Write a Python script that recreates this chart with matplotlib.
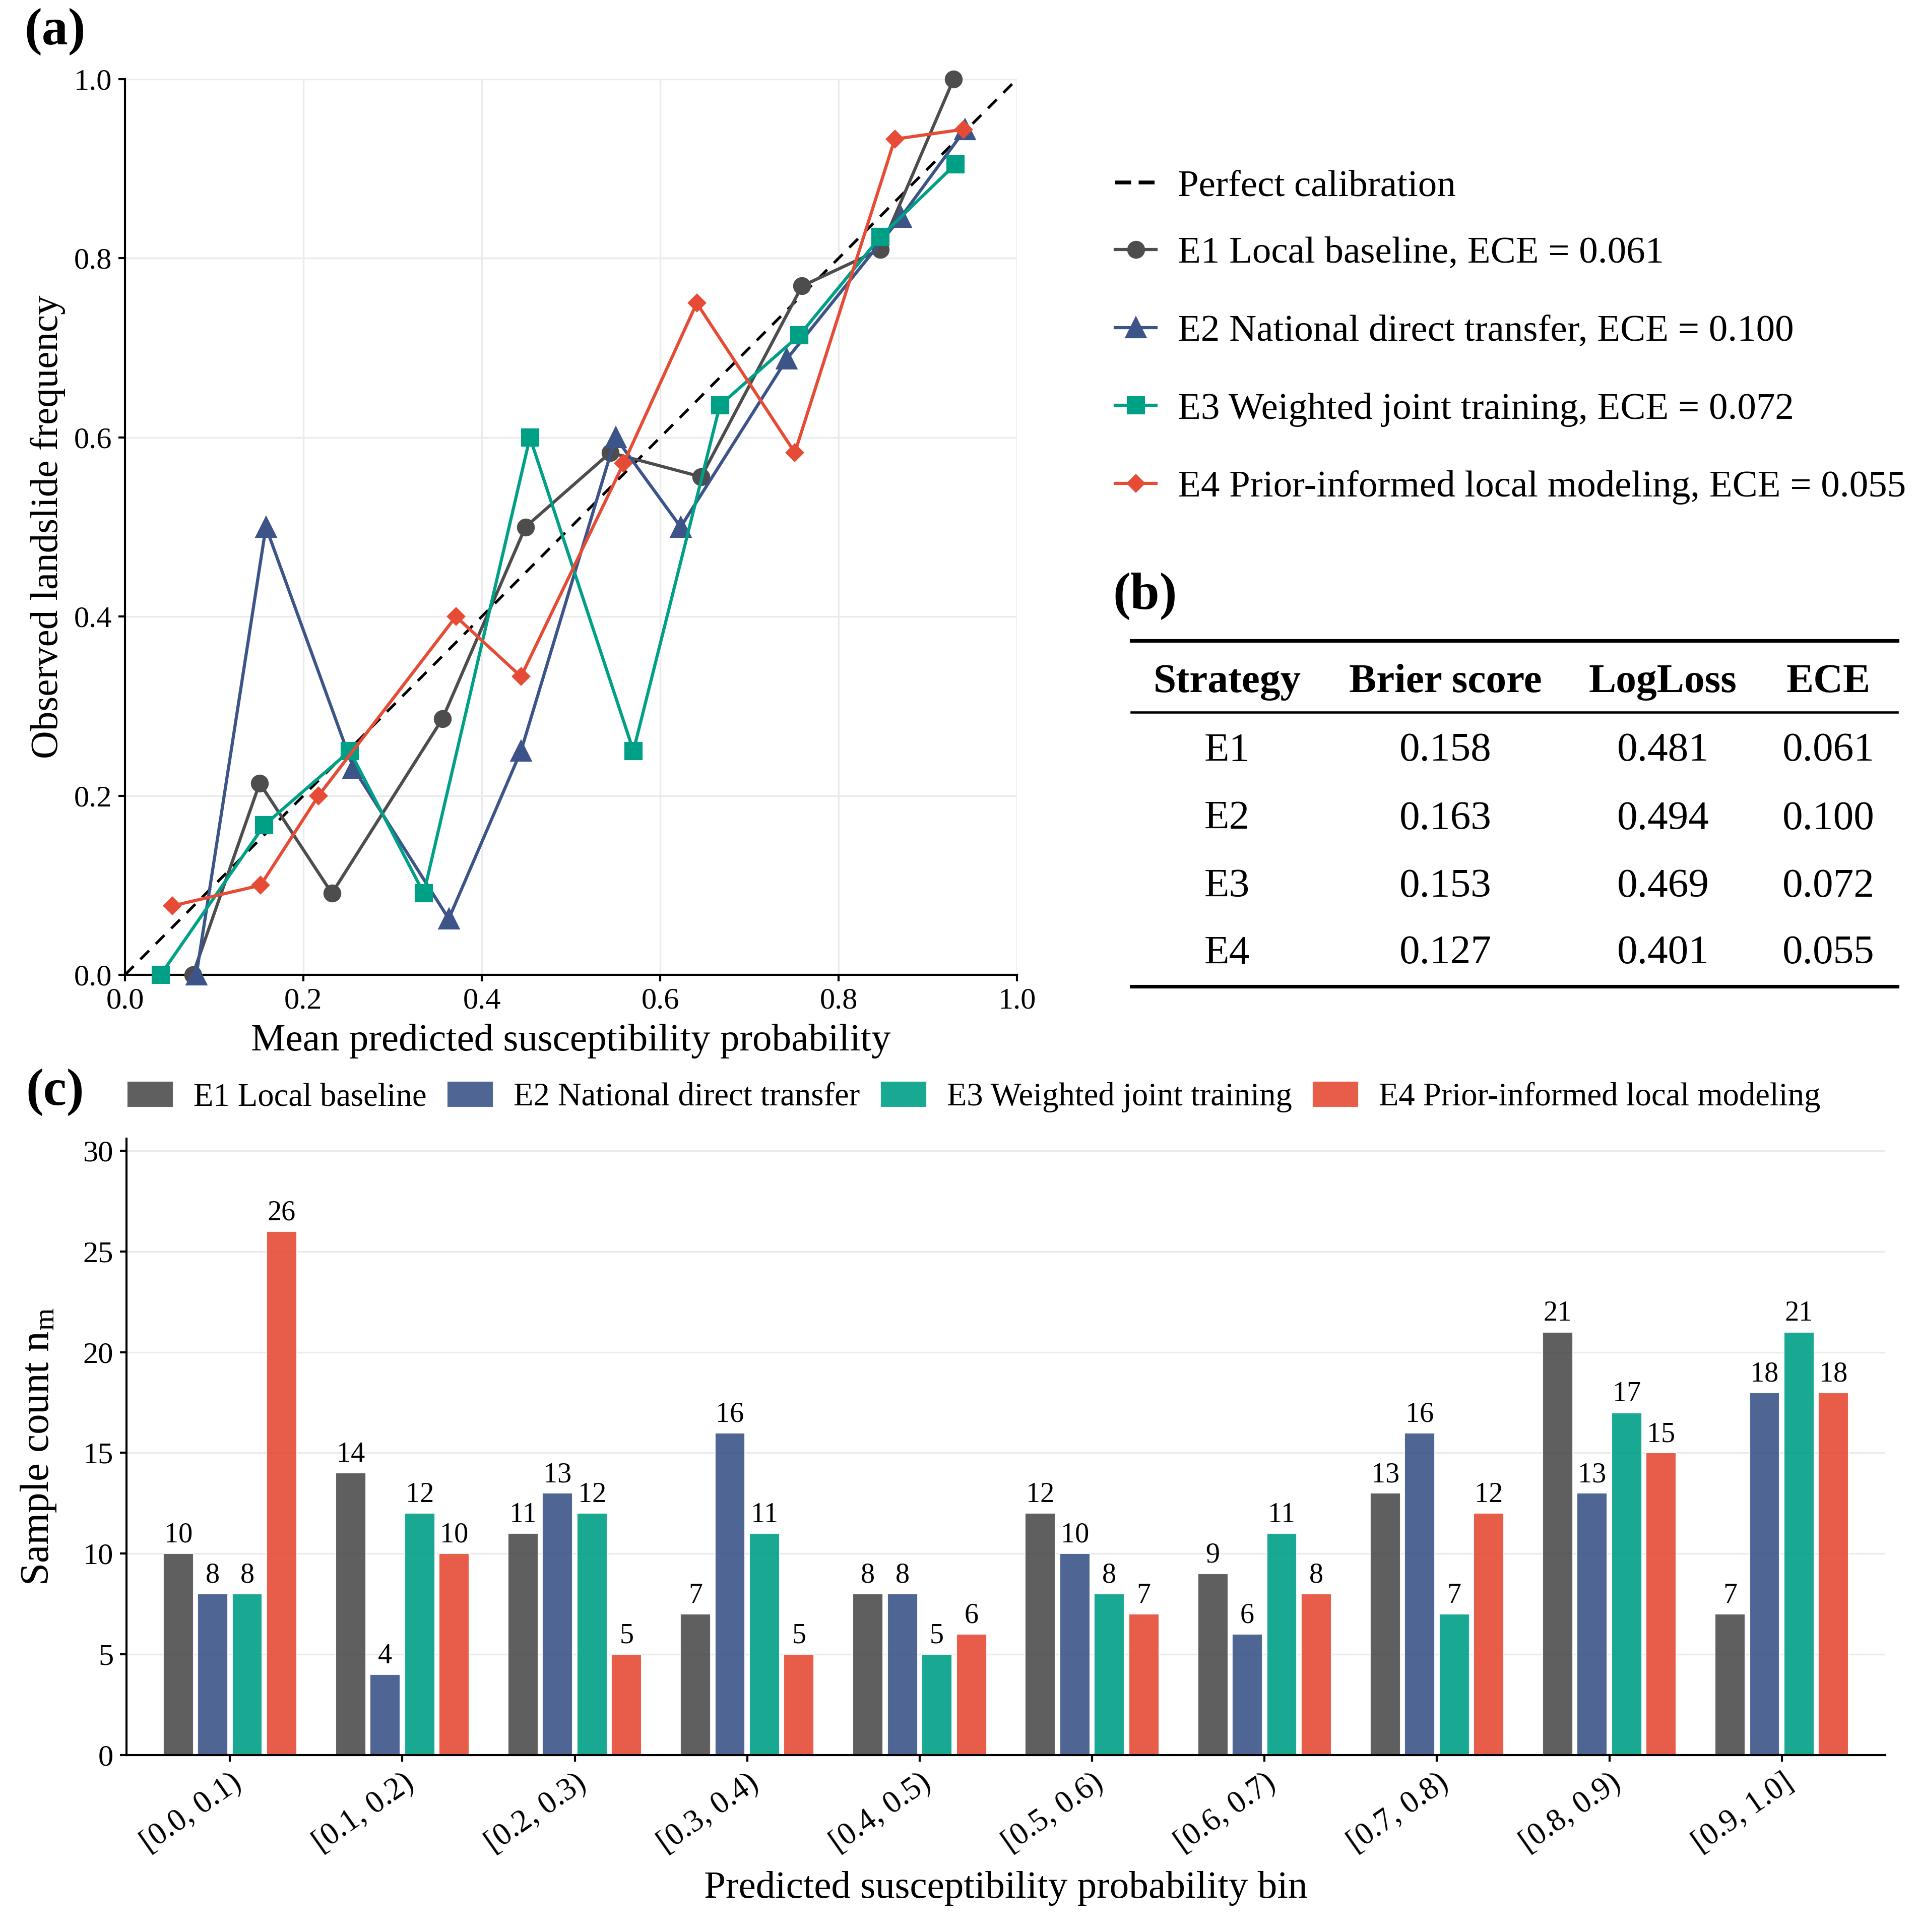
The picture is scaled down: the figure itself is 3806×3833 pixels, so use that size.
import matplotlib
matplotlib.use("Agg")
import matplotlib.pyplot as plt
from matplotlib.lines import Line2D
import numpy as np

plt.rcParams['font.family'] = ['Liberation Serif', 'DejaVu Serif']
plt.rcParams['mathtext.fontset'] = 'custom'
plt.rcParams['mathtext.rm'] = 'Liberation Serif'
plt.rcParams['mathtext.it'] = 'Liberation Serif:italic'

# ---- data ----
strategies = ['E1', 'E2', 'E3', 'E4']
names = ['E1 Local baseline', 'E2 National direct transfer',
         'E3 Weighted joint training', 'E4 Prior-informed local modeling']
ece = [0.061, 0.100, 0.072, 0.055]
brier = [0.158, 0.163, 0.153, 0.127]
logloss = [0.481, 0.494, 0.469, 0.401]

e1_x = [0.076, 0.151, 0.232, 0.356, 0.449, 0.544, 0.646, 0.759, 0.847, 0.929]
e1_y = [0.0, 0.214, 0.091, 0.286, 0.5, 0.583, 0.556, 0.769, 0.810, 1.0]
e2_x = [0.080, 0.158, 0.256, 0.363, 0.444, 0.550, 0.623, 0.742, 0.870, 0.942]
e2_y = [0.0, 0.5, 0.231, 0.0625, 0.25, 0.6, 0.5, 0.6875, 0.846, 0.944]
e3_x = [0.040, 0.156, 0.252, 0.335, 0.454, 0.570, 0.667, 0.756, 0.847, 0.931]
e3_y = [0.0, 0.167, 0.25, 0.091, 0.6, 0.25, 0.636, 0.714, 0.824, 0.905]
e4_x = [0.053, 0.152, 0.217, 0.371, 0.444, 0.559, 0.641, 0.751, 0.863, 0.940]
e4_y = [0.077, 0.1, 0.2, 0.4, 0.333, 0.571, 0.75, 0.583, 0.933, 0.944]

bins = ['[0.0, 0.1)', '[0.1, 0.2)', '[0.2, 0.3)', '[0.3, 0.4)', '[0.4, 0.5)',
        '[0.5, 0.6)', '[0.6, 0.7)', '[0.7, 0.8)', '[0.8, 0.9)', '[0.9, 1.0]']
n_e1 = [10, 14, 11, 7, 8, 12, 9, 13, 21, 7]
n_e2 = [8, 4, 13, 16, 8, 10, 6, 16, 13, 18]
n_e3 = [8, 12, 12, 11, 5, 8, 11, 7, 17, 21]
n_e4 = [26, 10, 5, 5, 6, 7, 8, 12, 15, 18]

cols = ['#4D4D4D', '#3C5488', '#00A087', '#E64B35']
marks = ['o', '^', 's', 'D']
msizes = [7.5, 9, 7.5, 5.5]

W, H = 3806, 3833
fig = plt.figure(figsize=(W / 300, H / 300), dpi=300)
fig.patch.set_facecolor('white')

def fx(px):
    return px / W

def fy(py):
    return 1 - py / H

def style_axes(ax):
    for s in ['top', 'right']:
        ax.spines[s].set_visible(False)
    for s in ['left', 'bottom']:
        ax.spines[s].set_linewidth(1.0)
        ax.spines[s].set_color('black')
    ax.tick_params(length=3.2, width=1.0, labelsize=14.5, pad=3, color='black')
    ax.set_axisbelow(True)

# ---- (a) reliability diagram ----
axa = fig.add_axes([fx(248), fy(1934), fx(2018) - fx(248), fy(157) - fy(1934)])
style_axes(axa)
axa.grid(True, color='#EBEBEB', linewidth=0.8)
axa.plot([0, 1], [0, 1], color='black', linestyle=(0, (4.5, 3.5)), linewidth=1.3,
         zorder=2, label='Perfect calibration')
series = [(e1_x, e1_y), (e2_x, e2_y), (e3_x, e3_y), (e4_x, e4_y)]
handles = []
for i, (xs, ys) in enumerate(series):
    h, = axa.plot(xs, ys, color=cols[i], marker=marks[i], markersize=msizes[i],
                  linewidth=1.5, zorder=3, clip_on=False,
                  label=f'{names[i]}, ECE = {ece[i]:.3f}')
    handles.append(h)
axa.set_xlim(0, 1)
axa.set_ylim(0, 1)
axa.set_xticks(np.arange(0, 1.01, 0.2))
axa.set_yticks(np.arange(0, 1.01, 0.2))
axa.xaxis.set_major_formatter(matplotlib.ticker.FormatStrFormatter('%.1f'))
axa.yaxis.set_major_formatter(matplotlib.ticker.FormatStrFormatter('%.1f'))
axa.set_xlabel('Mean predicted susceptibility probability', fontsize=18.5, labelpad=4)
axa.set_ylabel('Observed landslide frequency', fontsize=18.5, labelpad=4)

dash_h = Line2D([], [], color='black', linestyle=(0, (4.2, 2.0)), linewidth=1.8)
leg1 = fig.legend([dash_h], ['Perfect calibration'], loc='center left',
                  bbox_to_anchor=(fx(2213), fy(370)), frameon=False, fontsize=18,
                  handlelength=1.08, handletextpad=0.57, borderpad=0, borderaxespad=0)
leg2 = fig.legend(handles, [h.get_label() for h in handles], loc='center left',
                  bbox_to_anchor=(fx(2213), fy(735)), frameon=False, fontsize=18,
                  handlelength=1.08, handletextpad=0.57, borderpad=0, borderaxespad=0,
                  labelspacing=1.15)

# ---- (b) table ----
tl = dict(color='black', transform=fig.transFigure)
fig.add_artist(Line2D([fx(2245), fx(3765)], [fy(1271)] * 2, linewidth=1.7, **tl))
fig.add_artist(Line2D([fx(2245), fx(3765)], [fy(1413)] * 2, linewidth=1.1, **tl))
fig.add_artist(Line2D([fx(2245), fx(3765)], [fy(1957)] * 2, linewidth=1.7, **tl))
col_x = [fx(2435), fx(2868), fx(3300), fx(3628)]
headers = ['Strategy', 'Brier score', 'LogLoss', 'ECE']
for cx, hd in zip(col_x, headers):
    fig.text(cx, fy(1353), hd, ha='center', va='center', fontsize=19.5, fontweight='bold')
row_y = [fy(1490), fy(1625), fy(1759), fy(1892)]
for i, ry in enumerate(row_y):
    vals = [strategies[i], f'{brier[i]:.3f}', f'{logloss[i]:.3f}', f'{ece[i]:.3f}']
    for cx, v in zip(col_x, vals):
        fig.text(cx, ry, v, ha='center', va='center', fontsize=19.5)

# ---- (c) bar chart ----
axc = fig.add_axes([fx(251), fy(3482), fx(3741) - fx(251), fy(2259) - fy(3482)])
style_axes(axc)
axc.grid(True, axis='y', color='#EBEBEB', linewidth=0.8)
xpos = np.arange(len(bins))
counts = [n_e1, n_e2, n_e3, n_e4]
bar_handles = []
for i, cnt in enumerate(counts):
    bars = axc.bar(xpos + (i - 1.5) * 0.2, cnt, width=0.175, color=cols[i], alpha=0.9,
                   edgecolor='white', linewidth=0.5, label=names[i], zorder=2)
    axc.bar_label(bars, labels=[str(v) for v in cnt], padding=2.5, fontsize=13.5)
    bar_handles.append(bars)
axc.set_xlim(-0.6, 9.6)
axc.set_ylim(0, 30.6)
axc.set_yticks(np.arange(0, 31, 5))
axc.set_xticks(xpos)
axc.set_xticklabels(bins, rotation=35, ha='right', va='top', rotation_mode='anchor',
                    fontsize=15)
axc.set_xlabel('Predicted susceptibility probability bin', fontsize=18.5, labelpad=6)
axc.set_ylabel(r'Sample count n$_{\mathrm{m}}$', fontsize=19.5, labelpad=12)
fig.legend(bar_handles, names, loc='center left', bbox_to_anchor=(fx(252), fy(2176)),
           ncol=4, frameon=False, fontsize=15.5, handlelength=1.43, handleheight=0.86,
           handletextpad=0.62, columnspacing=0.62, borderpad=0, borderaxespad=0)

# ---- panel labels ----
fig.text(fx(48), fy(16), '(a)', ha='left', va='top', fontsize=25, fontweight='bold')
fig.text(fx(2208), fy(1136), '(b)', ha='left', va='top', fontsize=25, fontweight='bold')
fig.text(fx(51), fy(2120), '(c)', ha='left', va='top', fontsize=25, fontweight='bold')

fig.savefig('out.png', dpi=300)
